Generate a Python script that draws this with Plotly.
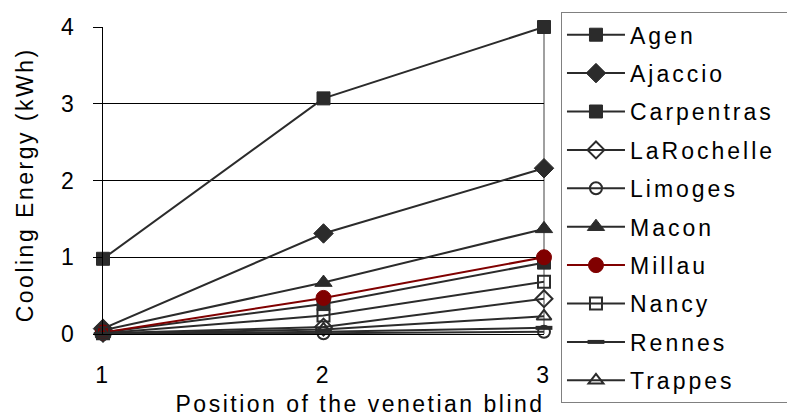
import plotly.graph_objects as go

positions = [1, 2, 3]
cities = ["Agen", "Ajaccio", "Carpentras", "LaRochelle", "Limoges",
          "Macon", "Millau", "Nancy", "Rennes", "Trappes"]
agen = [0.98, 3.07, 4.0]
ajaccio = [0.07, 1.31, 2.16]
carpentras = [0.02, 0.39, 0.93]
larochelle = [0.01, 0.09, 0.46]
limoges = [0.0, 0.01, 0.03]
macon = [0.05, 0.67, 1.37]
millau = [0.02, 0.47, 1.0]
nancy = [0.01, 0.24, 0.68]
rennes = [0.0, 0.03, 0.08]
trappes = [0.0, 0.06, 0.23]
values = [agen, ajaccio, carpentras, larochelle, limoges,
          macon, millau, nancy, rennes, trappes]

DARK = "#2b2b2b"
RED = "#800000"
styles = {
    "Agen": ("square", 13, DARK, 1),
    "Ajaccio": ("diamond", 15, DARK, 1),
    "Carpentras": ("square", 13, DARK, 1),
    "LaRochelle": ("diamond-open", 13, DARK, 2),
    "Limoges": ("circle-open", 12, DARK, 2),
    "Macon": ("triangle-up", 15, DARK, 1),
    "Millau": ("circle", 15, RED, 1),
    "Nancy": ("square-open", 12, DARK, 2),
    "Rennes": ("line-ew-open", 12, DARK, 4),
    "Trappes": ("triangle-up-open", 13, DARK, 2),
}

FONT = "Liberation Sans, Arial, sans-serif"

fig = go.Figure()
for name, vals in zip(cities, values):
    sym, size, col, lw = styles[name]
    fig.add_trace(go.Scatter(
        x=positions, y=vals, name=name, mode="lines+markers",
        legendgroup=name,
        line=dict(color=col, width=2),
        marker=dict(symbol=sym, size=size, color=col,
                    line=dict(color=col, width=lw)),
        cliponaxis=False,
    ))

fig.update_layout(
    width=787, height=419,
    margin=dict(l=103, r=243, t=24, b=85),
    paper_bgcolor="white", plot_bgcolor="white",
    font=dict(family=FONT, size=23, color="black"),
    showlegend=True,
    legend=dict(
        x=1.0385, y=1.048, xanchor="left", yanchor="top",
        bordercolor="#808080", borderwidth=1, bgcolor="white",
        font=dict(family=FONT, size=23, color="black"),
        itemwidth=58, tracegroupgap=5.5, maxheight=1,
    ),
    xaxis=dict(
        range=[1, 3], tickvals=positions, ticktext=[str(p) for p in positions],
        showgrid=False, zeroline=False, showline=True, linecolor="black",
        linewidth=1, ticks="", ticklabelstandoff=20,
        tickfont=dict(family=FONT, size=23, color="black"),
    ),
    yaxis=dict(
        range=[0, 4], dtick=1, tick0=0,
        showgrid=True, gridcolor="black", gridwidth=1,
        zeroline=False, showline=True, linecolor="black", linewidth=1,
        ticks="outside", ticklen=9, tickcolor="black", ticklabelstandoff=12,
        tickfont=dict(family=FONT, size=23, color="black"),
    ),
    shapes=[dict(type="line", xref="x domain", yref="y domain",
                 x0=1, x1=1, y0=0, y1=1, layer="below",
                 line=dict(color="#808080", width=1.5))],
    annotations=[
        dict(text="Position of the venetian blind", xref="paper", yref="paper",
             x=0.583, y=-0.228, xanchor="center", yanchor="middle",
             showarrow=False, font=dict(family=FONT, size=23, color="black")),
        dict(text="Cooling Energy (kWh)", xref="paper", yref="paper",
             x=-0.175, y=0.487, xanchor="center", yanchor="middle",
             textangle=-90, showarrow=False,
             font=dict(family=FONT, size=23, color="black")),
    ],
)

post = (
    "document.querySelectorAll('.main-svg text').forEach(function(t){"
    "t.style.letterSpacing='2.5px';});"
    "document.querySelectorAll('.legend text').forEach(function(t){"
    "t.style.letterSpacing='3px';});"
    "document.querySelectorAll('.legend .scrollbox').forEach(function(e){"
    "e.removeAttribute('clip-path');});"
    "document.querySelectorAll('.legend rect.bg').forEach(function(e){"
    "e.setAttribute('width','400');});"
)
fig.write_html("out.html", post_script=post)
